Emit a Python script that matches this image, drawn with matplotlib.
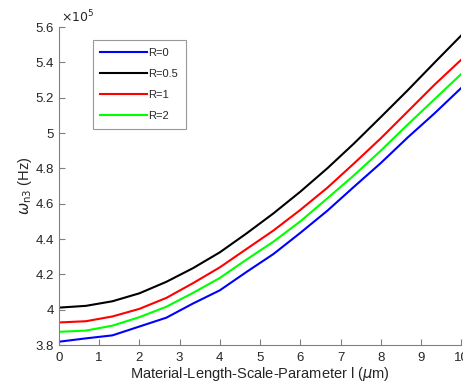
import matplotlib
matplotlib.use("Agg")
import matplotlib.pyplot as plt
from matplotlib.ticker import FuncFormatter

plt.rcParams['font.family'] = ['Liberation Sans', 'DejaVu Sans']

# material length scale parameter l (um)
l_vals = [0, 0.67, 1.33, 2, 2.67, 3.33, 4, 4.67, 5.33, 6, 6.67, 7.33, 8, 8.67, 9.33, 10]

# omega_n3 in units of 1e5 Hz
w_R0 = [3.819, 3.838, 3.855, 3.905, 3.955, 4.035, 4.11, 4.215, 4.315, 4.435,
        4.56, 4.695, 4.83, 4.975, 5.11, 5.255]
w_R05 = [4.012, 4.022, 4.048, 4.093, 4.158, 4.235, 4.325, 4.433, 4.545, 4.668,
         4.80, 4.94, 5.09, 5.242, 5.397, 5.552]
w_R1 = [3.928, 3.935, 3.962, 4.005, 4.067, 4.15, 4.24, 4.345, 4.448, 4.565,
        4.69, 4.827, 4.97, 5.122, 5.272, 5.415]
w_R2 = [3.875, 3.882, 3.91, 3.958, 4.017, 4.095, 4.18, 4.285, 4.385, 4.50,
        4.63, 4.76, 4.90, 5.048, 5.19, 5.334]

labels = ['R=0', 'R=0.5', 'R=1', 'R=2']
colors = ['#0000ff', '#000000', '#ff0000', '#00ff00']

fig = plt.figure(figsize=(4.64, 3.86), dpi=100)
ax = fig.add_axes([0.127, 0.106, 0.867, 0.824])

for ys, lab, c in zip([w_R0, w_R05, w_R1, w_R2], labels, colors):
    ax.plot(l_vals, ys, color=c, lw=1.5, label=lab)

ax.set_xlim(0, 10)
ax.set_ylim(3.8, 5.6)
ax.set_xticks(range(0, 11))
ax.set_yticks([3.8, 4.0, 4.2, 4.4, 4.6, 4.8, 5.0, 5.2, 5.4, 5.6])
ax.yaxis.set_major_formatter(FuncFormatter(lambda v, p: '%g' % round(v, 2)))

gray = '#808080'
for s in ['top', 'right']:
    ax.spines[s].set_visible(False)
for s in ['left', 'bottom']:
    ax.spines[s].set_color(gray)
    ax.spines[s].set_linewidth(0.8)
ax.tick_params(direction='in', length=4, width=0.8, color=gray,
               labelsize=9.5, labelcolor='#262626')
ax.tick_params(axis='x', pad=5)

ax.set_xlabel(r'Material-Length-Scale-Parameter l ($\mu$m)', fontsize=10.5,
              color='#262626', labelpad=1)
ax.set_ylabel(r'$\omega_{\rm n3}$ (Hz)', fontsize=10.5, color='#262626', labelpad=1)
ax.text(0.005, 1.005, r'$\times 10^5$', transform=ax.transAxes, fontsize=9,
        color='#262626', ha='left', va='bottom')

leg = ax.legend(loc='upper left', bbox_to_anchor=(92.7 / 464, 1 - 40 / 386),
                bbox_transform=fig.transFigure, fontsize=8, frameon=True,
                fancybox=False, edgecolor=gray, handlelength=4.2,
                handletextpad=0.1, labelspacing=1.0, borderpad=0.7,
                borderaxespad=0)
leg.get_frame().set_linewidth(0.8)
for t in leg.get_texts():
    t.set_color('#262626')

fig.savefig('out.png', dpi=100)
